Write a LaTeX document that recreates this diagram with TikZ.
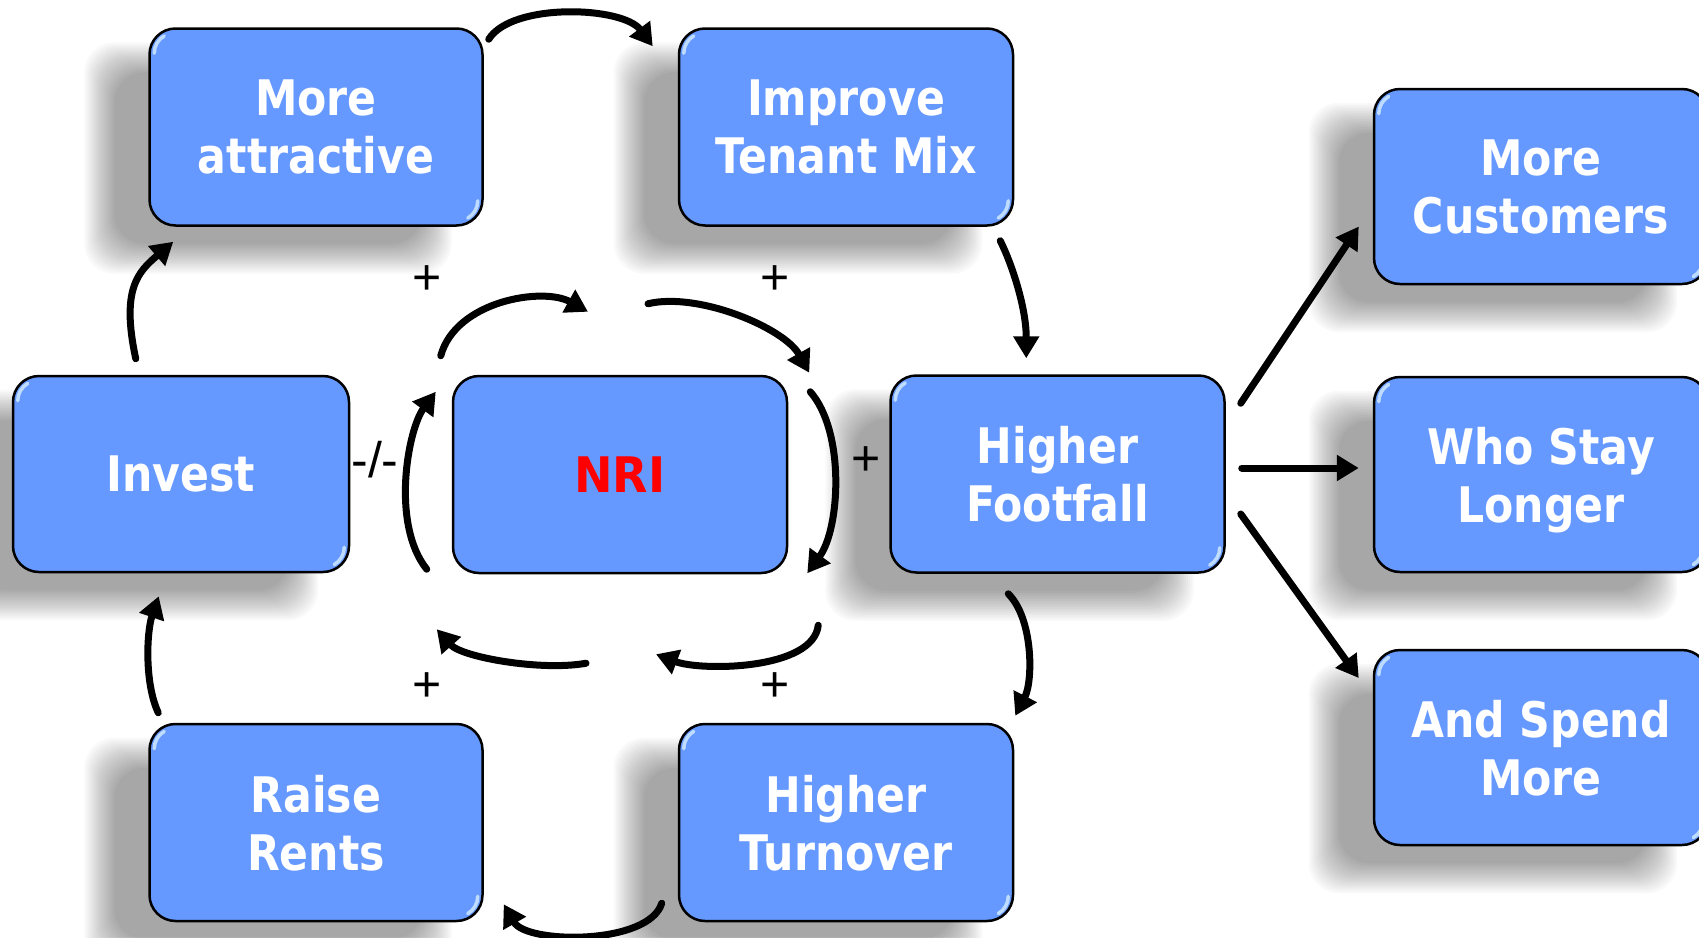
\documentclass[tikz,border=0pt]{standalone}
\usepackage{fontspec}
\newfontfamily\boxfont{DejaVu Sans}[FakeStretch=0.87]
\newfontfamily\nrifont{DejaVu Sans}[FakeStretch=0.94]
\newfontfamily\signfont{Liberation Sans}
\usetikzlibrary{arrows.meta,backgrounds}
\definecolor{boxblue}{RGB}{102,153,255}
\definecolor{glosscol}{RGB}{205,232,255}
\newcommand{\boxshadow}[1]{%
  \foreach \d in {0,2,...,30}{%
    \fill[black,fill opacity=0.022,rounded corners=30pt]
      ([shift={(-34-\d,45-\d)}]#1.north west) rectangle ([shift={(-62+\d,17+\d)}]#1.south east);
  }}
\newcommand{\boxgloss}[1]{%
  \draw[glossline] ([shift={(6,26)}]#1.north west) arc[start angle=180,end angle=240,radius=20];
  \draw[glossline] ([shift={(-6,-26)}]#1.south east) arc[start angle=0,end angle=60,radius=20];}
\begin{document}
\begin{tikzpicture}[x=1pt,y=-1pt,
  box/.style={draw=black,line width=2.5pt,fill=boxblue,rounded corners=26pt,
    minimum width=333pt,minimum height=197pt,inner sep=0pt,align=center,
    text=white,font=\boxfont\bfseries\fontsize{49}{58}\selectfont,text depth=0pt},
  nribox/.style={box,text=red,font=\nrifont\bfseries\fontsize{49}{58}\selectfont},
  glossline/.style={draw=glosscol,line width=3.5pt,line cap=round,opacity=0.85},
  arr/.style={line width=7pt,line cap=round,-{Triangle[length=22pt,width=25pt]}},
  sign/.style={font=\signfont\fontsize{50}{54}\selectfont,inner sep=0pt,text=black}]
\useasboundingbox (0,0) rectangle (1699,937);

% boxes
\node[box] (ma) at (316,127) {More\\attractive};
\node[box,minimum width=334pt] (itm) at (846,127) {Improve\\Tenant Mix};
\node[box,minimum width=336pt,minimum height=196pt] (inv) at (181,474) {Invest};
\node[nribox,minimum width=334pt] (nri) at (620,474.5) {NRI};
\node[box,minimum width=334pt] (hf) at (1057.5,474) {Higher\\Footfall};
\node[box] (rr) at (316,822.5) {Raise\\Rents};
\node[box,minimum width=334pt] (ht) at (846,822.5) {Higher\\Turnover};
\node[box,minimum width=334pt,minimum height=195pt] (mc) at (1541,186.5) {More\\Customers};
\node[box,minimum width=334pt,minimum height=195pt] (wsl) at (1541,474.5) {Who Stay\\Longer};
\node[box,minimum width=334pt,minimum height=195pt] (asm) at (1541,747.5) {And Spend\\More};

\foreach \n in {ma,itm,inv,hf,rr,ht,mc,wsl,asm}{\boxgloss{\n}}

\begin{pgfonlayer}{background}
  \fill[white] (0,0) rectangle (1699,937);
  \foreach \n in {ma,itm,inv,hf,rr,ht,mc,wsl,asm}{\boxshadow{\n}}
\end{pgfonlayer}

% outer loop
\draw[arr] ([shift={(5,12)}]ma.north east) .. controls +(23,-37) and +(-30,-40) .. ([shift={(-25,19)}]itm.north west);
\draw[arr] ([shift={(-14,14)}]itm.south east) .. controls +(12,24) and +(0,-50) .. ([shift={(137,-16)}]hf.north west);
\draw[arr] ([shift={(119,20)}]hf.south west) .. controls +(25,25) and +(18,-35) .. ([shift={(1,-7)}]ht.north east);
\draw[arr] ([shift={(-16,-19)}]ht.south west) .. controls +(-13,42) and +(23,40) .. ([shift={(20,-18)}]rr.south east);
\draw[arr] ([shift={(10,-10)}]rr.north west) .. controls +(-14,-30) and +(-12,35) .. ([shift={(147,23)}]inv.south west);
\draw[arr] ([shift={(124,-16)}]inv.north west) .. controls +(-15,-70) and +(-35,30) .. ([shift={(25,15)}]ma.south west);

% inner loop around NRI
\draw[arr] ([shift={(-25,-5)}]nri.south west) .. controls +(-36,-45) and +(-28,38) .. ([shift={(-16,17)}]nri.north west);
\draw[arr] ([shift={(-11,-19)}]nri.north west) .. controls +(15,-55) and +(-45,-25) .. ([shift={(-32,-63)}]nri.north);
\draw[arr] ([shift={(28,-71)}]nri.north) .. controls +(50,-12) and +(-25,-45) .. ([shift={(21,-2)}]nri.north east);
\draw[arr] ([shift={(22,17)}]nri.north east) .. controls +(35,40) and +(33,-45) .. ([shift={(19,-1)}]nri.south east);
\draw[arr] ([shift={(30,51)}]nri.south east) .. controls +(-5,45) and +(45,17) .. ([shift={(36,80)}]nri.south);
\draw[arr] ([shift={(-34,89)}]nri.south) .. controls +(-45,8) and +(25,28) .. ([shift={(-15,55)}]nri.south west);

% outcomes
\draw[arr] ([shift={(15,29)}]hf.north east) -- ([shift={(-14,40)}]mc.west);
\draw[arr] ([shift={(16,-6)}]hf.east) -- ([shift={(-14,-6.5)}]wsl.west);
\draw[arr] ([shift={(15,40)}]hf.east) -- ([shift={(-14,-69.5)}]asm.west);

% signs
\node[sign] (p1) at (427,280) {+};
\node[sign] (p2) at (775,280) {+};
\node[sign] (p3) at (866,461) {+};
\node[sign] (p4) at (427,687) {+};
\node[sign] (p5) at (775,687) {+};
\node[sign] (neg) at (375,460) {-/-};
\end{tikzpicture}
\end{document}
